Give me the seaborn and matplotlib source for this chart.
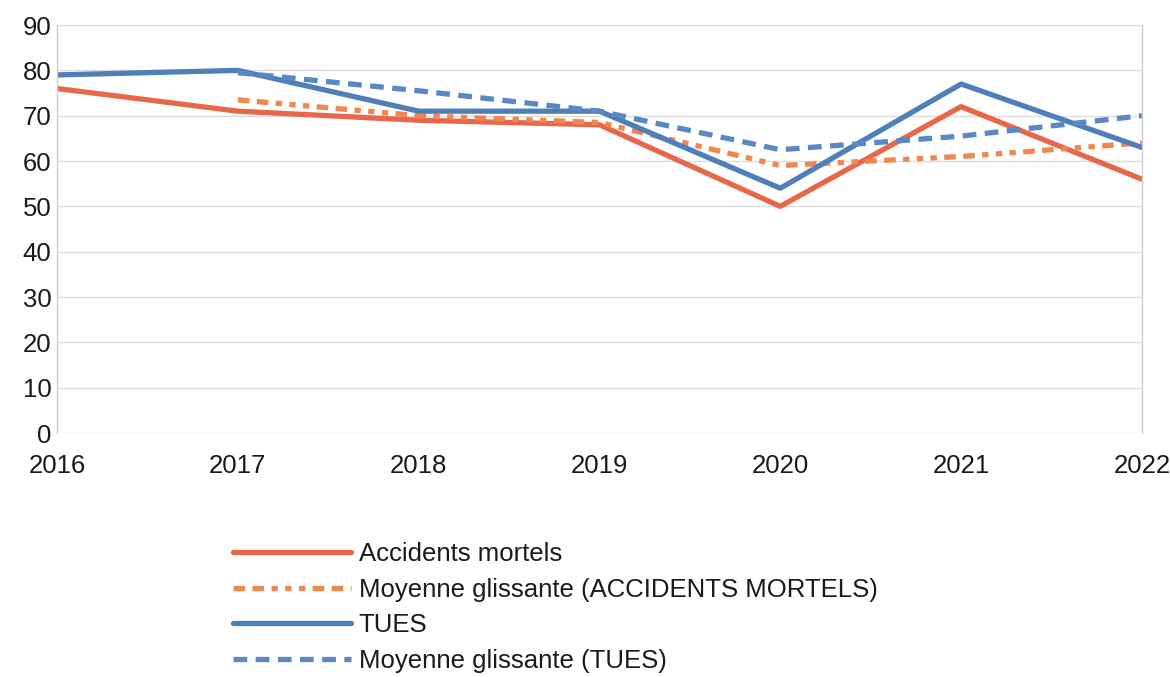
import numpy as np
import pandas as pd
import matplotlib
matplotlib.use('Agg')
import matplotlib.pyplot as plt
import seaborn as sns

# values
annees = [2016, 2017, 2018, 2019, 2020, 2021, 2022]
accidents = [76, 71, 69, 68, 50, 72, 56]
moy_accidents = [np.nan, 73.5, 70, 68.5, 59, 61, 64]
tues = [79, 80, 71, 71, 54, 77, 63]
moy_tues = [np.nan, 79.5, 75.5, 71, 62.5, 65.5, 70]

sns.set_theme(style='white')
plt.rcParams['font.family'] = ['Liberation Sans', 'DejaVu Sans']

df = pd.DataFrame({'annee': annees, 'acc': accidents, 'macc': moy_accidents,
                   'tues': tues, 'mtues': moy_tues})

fig = plt.figure(figsize=(11.7, 6.77), dpi=100)
ax = fig.add_axes([0.0487, 0.3604, 0.976 - 0.0487, 0.963 - 0.3604])

orange = '#e8674a'
orange_l = '#f0874f'
bleu = '#4f7fb9'
bleu_l = '#5889c4'

sns.lineplot(data=df, x='annee', y='acc', ax=ax, color=orange, lw=3.8,
             label='Accidents mortels')
sns.lineplot(data=df, x='annee', y='macc', ax=ax, color=orange_l, lw=3.8,
             label='Moyenne glissante (ACCIDENTS MORTELS)')
ax.lines[-1].set_dashes([2.2, 1.4, 2.2, 1.4, 1.2, 1.4, 1.2, 1.4, 1.2, 1.4])
sns.lineplot(data=df, x='annee', y='tues', ax=ax, color=bleu, lw=3.8,
             label='TUES')
sns.lineplot(data=df, x='annee', y='mtues', ax=ax, color=bleu_l, lw=3.8,
             label='Moyenne glissante (TUES)')
ax.lines[-1].set_dashes([2.6, 1.6])

ax.set_xlim(2016, 2022)
ax.set_ylim(0, 90)
ax.set_yticks(range(0, 91, 10))
ax.set_xticks(annees)
ax.set_xticklabels([str(a) for a in annees])
ax.set_xlabel('')
ax.set_ylabel('')
ax.yaxis.grid(True, color='#dcdcdc', lw=1)
ax.xaxis.grid(False)
for s in ['top', 'bottom']:
    ax.spines[s].set_visible(False)
for s in ['left', 'right']:
    ax.spines[s].set_color('#d0d0d0')
    ax.spines[s].set_linewidth(1)
ax.tick_params(axis='both', length=0, labelsize=18.5, colors='#1a1a1a')
ax.tick_params(axis='x', pad=15)
ax.tick_params(axis='y', pad=4)

ax.get_legend().remove()
h, l = ax.get_legend_handles_labels()
fig.legend(h, l, loc='upper left', bbox_to_anchor=(0.188, 0.218), frameon=False,
           fontsize=18.5, handlelength=4.6, handletextpad=0.3, labelspacing=0.45,
           borderpad=0, labelcolor='#1a1a1a')

plt.savefig('out.png', dpi=100)
